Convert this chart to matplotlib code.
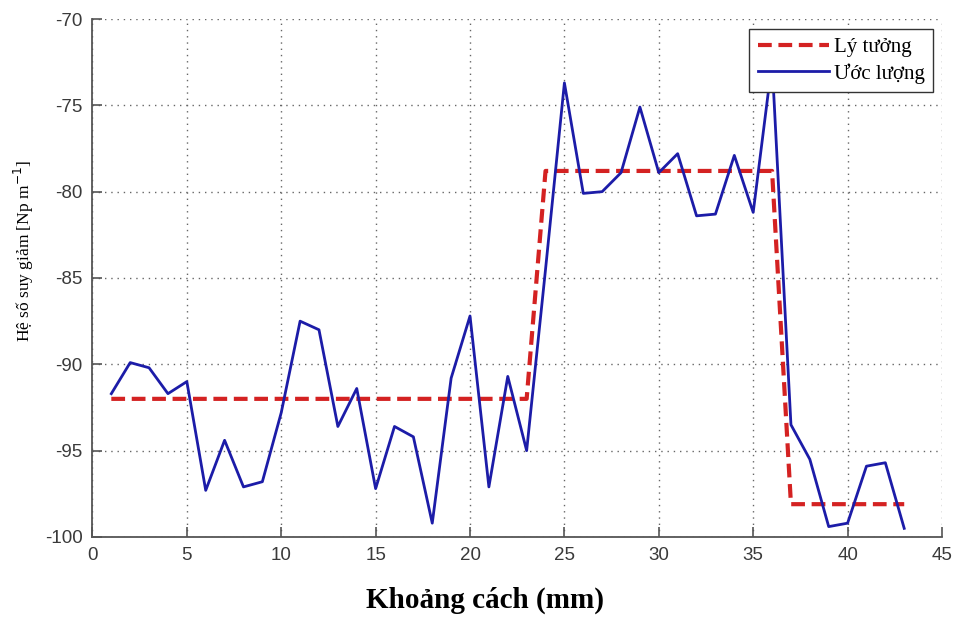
import matplotlib
matplotlib.use("Agg")
import matplotlib.pyplot as plt

# distance (mm)
khoang_cach = list(range(1, 44))

# ideal attenuation: three flat levels
ly_tuong = [-92.0] * 23 + [-78.8] * 13 + [-98.1] * 7

# estimated attenuation
uoc_luong = [-91.7, -89.9, -90.2, -91.7, -91.0, -97.3, -94.4, -97.1, -96.8, -92.8,
             -87.5, -88.0, -93.6, -91.4, -97.2, -93.6, -94.2, -99.2, -90.8, -87.2,
             -97.1, -90.7, -95.0, -84.5, -73.7, -80.1, -80.0, -78.9, -75.1, -78.9,
             -77.8, -81.4, -81.3, -77.9, -81.2, -72.5, -93.5, -95.5, -99.4, -99.2,
             -95.9, -95.7, -99.5]

xticks = [0, 5, 10, 15, 20, 25, 30, 35, 40, 45]
yticks = [-100, -95, -90, -85, -80, -75, -70]

serif = ["Liberation Serif", "DejaVu Serif"]
sans = ["Liberation Sans", "DejaVu Sans"]

plt.rcParams["axes.unicode_minus"] = False

fig = plt.figure(figsize=(9.57, 6.21), dpi=100)
ax = fig.add_axes([0.0966, 0.1353, 0.8877, 0.8341])

ax.plot(khoang_cach, ly_tuong, color="#d42222", lw=3.0,
        linestyle=(0, (3.3, 1.6)), label="Lý tưởng", zorder=3)
ax.plot(khoang_cach, uoc_luong, color="#1c1ca8", lw=2.0,
        label="Ước lượng", zorder=4)

ax.set_xlim(0, 45)
ax.set_ylim(-100, -70)
ax.set_xticks(xticks)
ax.set_yticks(yticks)

ax.grid(True, linestyle=(0, (1, 3.5)), color="#666666", lw=1.0)
ax.set_axisbelow(True)
for side in ["top", "right"]:
    ax.spines[side].set_visible(False)
for side in ["left", "bottom"]:
    ax.spines[side].set_color("#555555")
    ax.spines[side].set_linewidth(1.3)

ax.tick_params(direction="in", length=7, width=1.2, color="#555555",
               labelsize=13.5, labelcolor="#3a3a3a", pad=7)
for lab in ax.get_xticklabels() + ax.get_yticklabels():
    lab.set_family(sans)

ax.set_xlabel("Khoảng cách (mm)", family=serif, fontsize=21,
              fontweight="bold")
ax.xaxis.set_label_coords(0.462, -0.095)
ax.set_ylabel("Hệ số suy giảm [Np m$^{-1}$]", family=serif, fontsize=12.5)
ax.yaxis.set_label_coords(-0.066, 0.552)

leg = ax.legend(loc="upper right", bbox_to_anchor=(0.9894, 0.9807),
                prop={"family": serif, "size": 15}, frameon=True,
                fancybox=False, framealpha=1, edgecolor="#333333",
                handlelength=3.4, handletextpad=0.25, borderpad=0.4,
                labelspacing=0.3, borderaxespad=0.0)
leg.get_frame().set_linewidth(1.0)
leg.set_zorder(10)

fig.savefig("out.png", dpi=100)
